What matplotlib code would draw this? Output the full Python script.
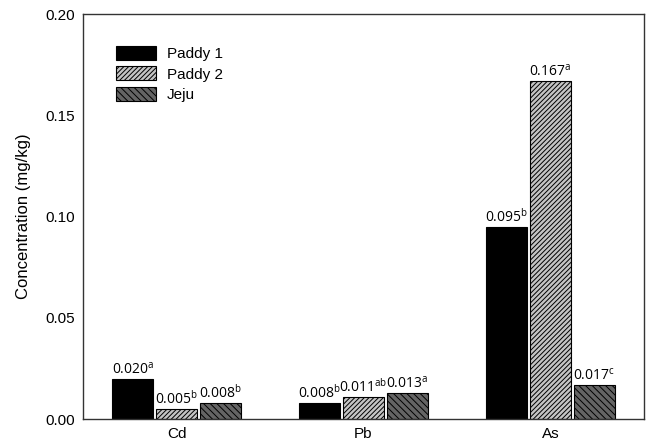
import numpy as np
import matplotlib
matplotlib.use("Agg")
import matplotlib.pyplot as plt

plt.rcParams['font.family'] = ['Liberation Sans', 'DejaVu Sans']
plt.rcParams['mathtext.fontset'] = 'custom'
plt.rcParams['mathtext.rm'] = 'Open Sans'
plt.rcParams['mathtext.it'] = 'Open Sans'
plt.rcParams['hatch.color'] = 'black'
plt.rcParams['hatch.linewidth'] = 0.7

# Data
elements = ["Cd", "Pb", "As"]
series = ["Paddy 1", "Paddy 2", "Jeju"]
paddy1 = [0.020, 0.008, 0.095]
paddy2 = [0.005, 0.011, 0.167]
jeju = [0.008, 0.013, 0.017]
paddy1_sig = ["a", "b", "b"]
paddy2_sig = ["b", "ab", "a"]
jeju_sig = ["b", "a", "c"]

values = [paddy1, paddy2, jeju]
letters = [paddy1_sig, paddy2_sig, jeju_sig]
colors = ["black", "#c4c4c4", "#646464"]
hatches = ["", "///////", "\\\\\\\\\\"]

fig = plt.figure(figsize=(6.49, 4.46), dpi=100)
ax = fig.add_axes([0.128, 0.0605, 0.864, 0.908])

x = np.arange(len(elements))
width = 0.22
offsets = [-0.235, 0, 0.235]

for vals, sig, name, col, h, off in zip(values, letters, series, colors, hatches, offsets):
    bars = ax.bar(x + off, vals, width, color=col, edgecolor="black",
                  linewidth=0.8, hatch=h, label=name)
    for b, v, s in zip(bars, vals, sig):
        ax.text(b.get_x() + b.get_width() / 2, v + 0.0006,
                "%.3f$^{\\mathrm{%s}}$" % (v, s),
                ha="center", va="bottom", fontsize=10, family="Open Sans")

ax.set_xlim(-0.5, 2.5)
ax.set_ylim(0, 0.20)
ax.set_yticks([0.00, 0.05, 0.10, 0.15, 0.20])
ax.set_yticklabels(["0.00", "0.05", "0.10", "0.15", "0.20"])
ax.set_xticks(x)
ax.set_xticklabels(elements)
ax.tick_params(axis="both", length=0, labelsize=11, pad=6)
ax.set_ylabel("Concentration (mg/kg)", fontsize=12, labelpad=10)
for sp in ax.spines.values():
    sp.set_color("#333333")
    sp.set_linewidth(1.0)

ax.legend(loc="upper left", bbox_to_anchor=(0.035, 0.955), frameon=False,
          fontsize=11, handlelength=2.6, handleheight=1.0, labelspacing=0.35,
          handletextpad=0.7)

fig.savefig("out.png", dpi=100)
